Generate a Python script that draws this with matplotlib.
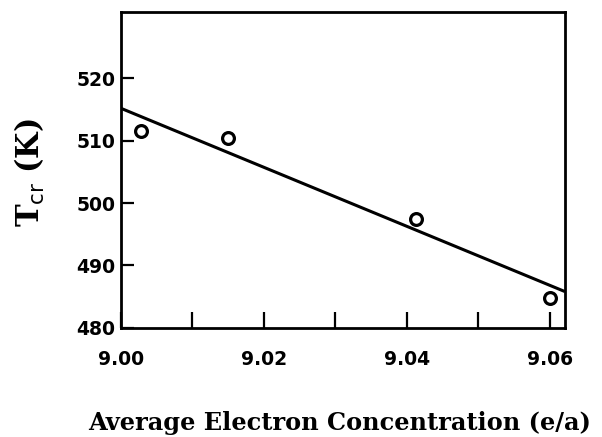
import numpy as np
import matplotlib
matplotlib.use("Agg")
import matplotlib.pyplot as plt
from matplotlib.ticker import MultipleLocator

# measured points (e/a, Tcr in K)
conc = [9.0028, 9.0150, 9.0413, 9.0600]
tcr = [511.6, 510.4, 497.4, 484.8]

# straight line fit as drawn
fit_x = [9.000, 9.0621]
fit_y = [515.2, 485.8]

plt.rcParams['mathtext.fontset'] = 'custom'
plt.rcParams['mathtext.bf'] = 'DejaVu Serif:bold'
plt.rcParams['mathtext.sf'] = 'DejaVu Sans'
plt.rcParams['mathtext.rm'] = 'DejaVu Serif'

fig = plt.figure(figsize=(6.02, 4.37), dpi=100)
ax = fig.add_axes([0.201, 0.250, 0.7375, 0.7232])

ax.plot(fit_x, fit_y, color='black', linewidth=2.2, solid_capstyle='butt')
ax.plot(conc, tcr, linestyle='none', marker='o', markersize=8.5,
        markerfacecolor='white', markeredgecolor='black', markeredgewidth=2.3)

ax.set_xlim(9.0, 9.0621)
ax.set_ylim(480, 530.7)

ax.xaxis.set_minor_locator(MultipleLocator(0.01))
ax.set_xticks([9.00, 9.02, 9.04, 9.06])
ax.set_xticklabels(['9.00', '9.02', '9.04', '9.06'])
ax.set_yticks([480, 490, 500, 510, 520])
ax.set_yticklabels(['480', '490', '500', '510', '520'])

ax.tick_params(axis='x', which='both', direction='in', length=11.5, width=1.6,
               pad=16, labelsize=13.5, top=False)
ax.tick_params(axis='y', which='both', direction='in', length=9, width=1.6,
               pad=4, labelsize=13.5, right=False)
for lab in ax.get_xticklabels() + ax.get_yticklabels():
    lab.set_fontweight('bold')

for sp in ax.spines.values():
    sp.set_linewidth(2.0)

fig.text(0.564, 0.016, 'Average Electron Concentration (e/a)',
         fontfamily='DejaVu Serif', fontweight='bold', fontsize=17.3,
         ha='center', va='baseline')
fig.text(0.0498, 0.605, r'$\mathbf{T}_{\mathsf{cr}}\ \mathbf{(K)}$',
         fontsize=22, rotation=90, ha='center', va='center')

fig.savefig('out.png', dpi=100)
